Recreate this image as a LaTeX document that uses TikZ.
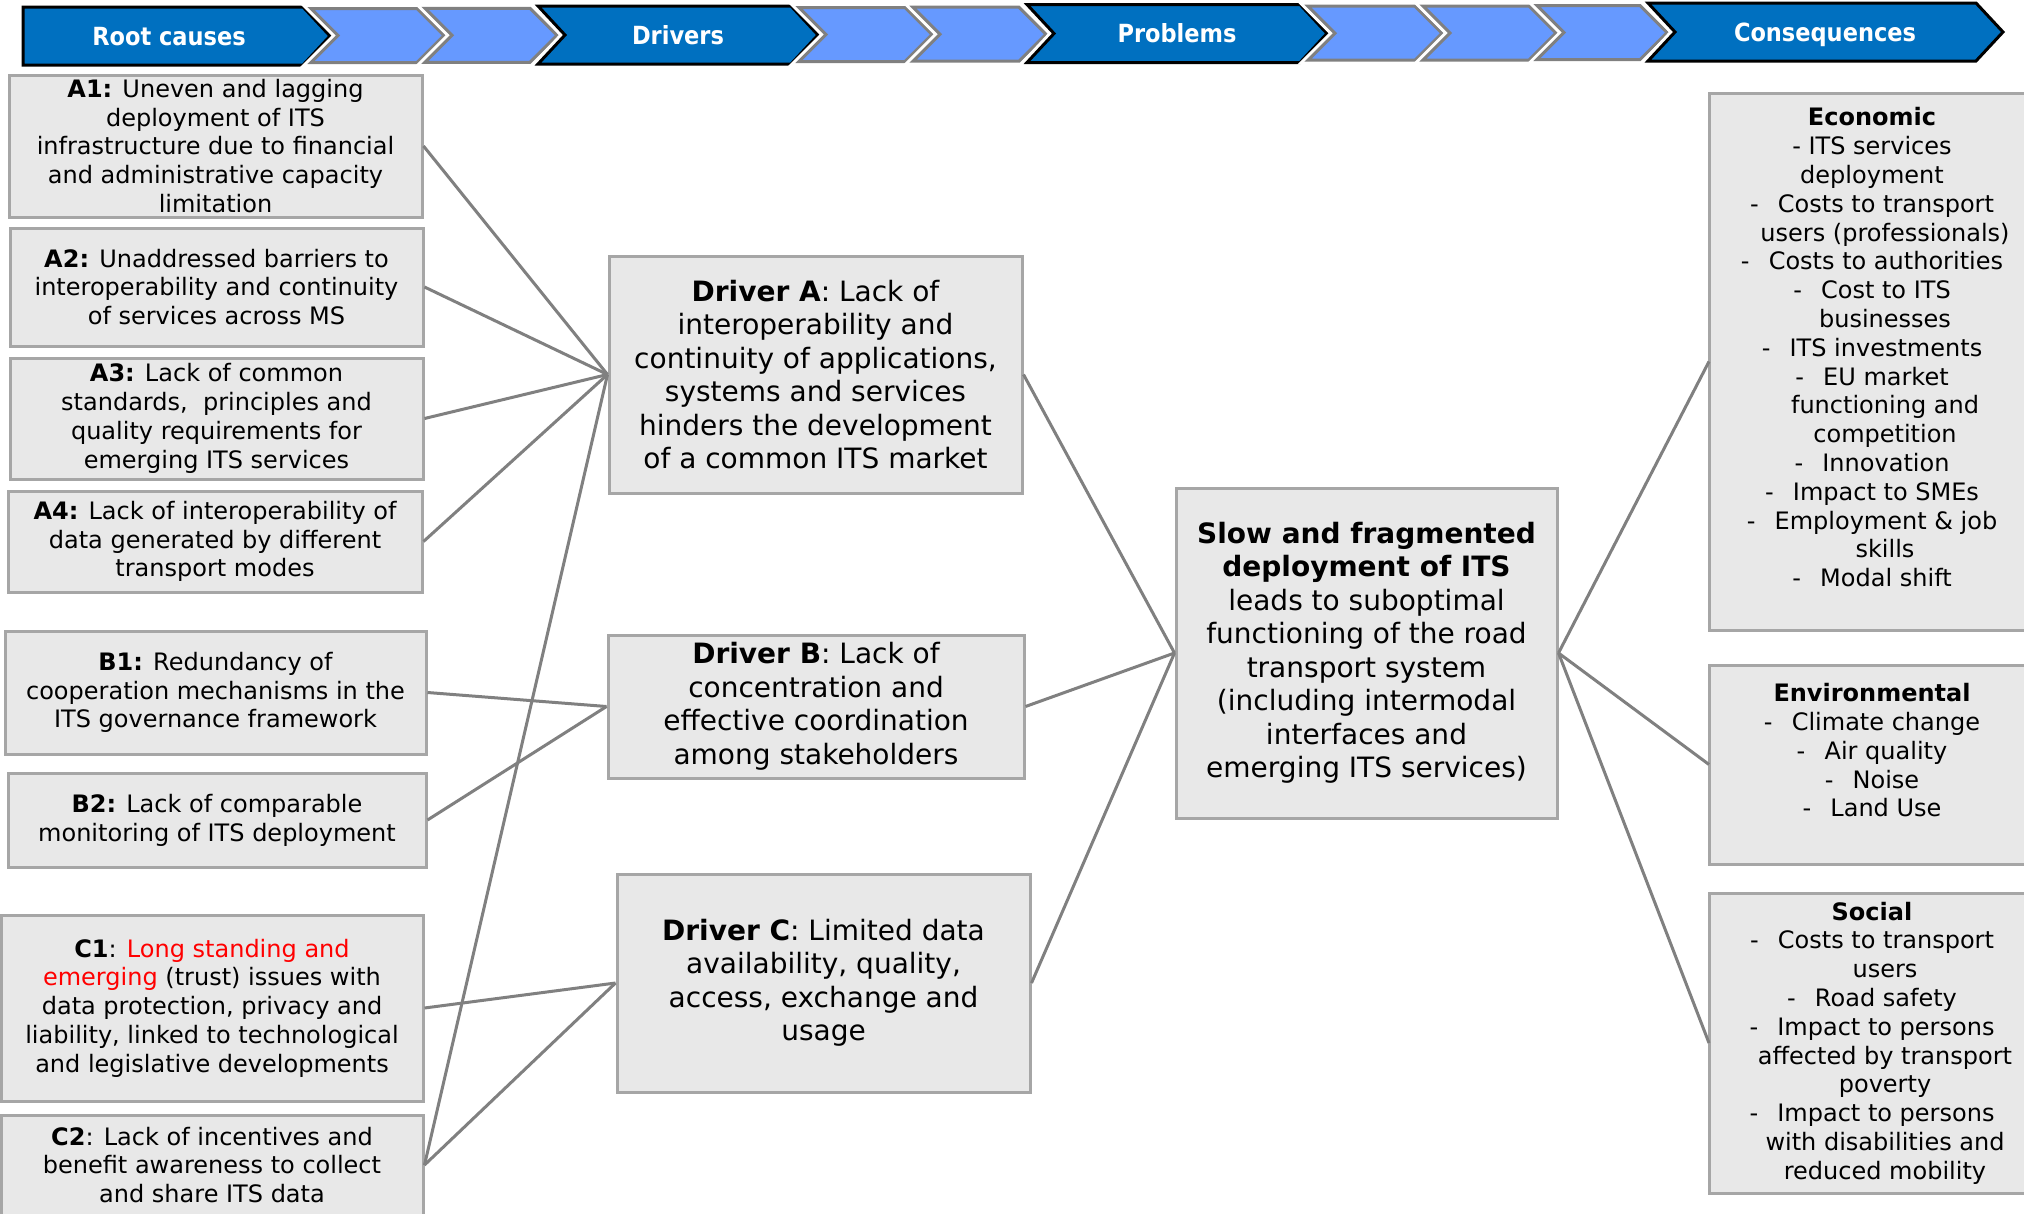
\documentclass[tikz,border=0pt]{standalone}
\usepackage{fontspec}
\setmainfont{DejaVu Sans}
\newfontfamily\hdrfont[FakeStretch=0.9]{DejaVu Sans}
\definecolor{hdrblue}{RGB}{0,112,192}
\definecolor{hdrlight}{RGB}{102,153,255}
\definecolor{boxfill}{RGB}{232,232,232}
\definecolor{boxline}{RGB}{166,166,166}
\definecolor{connline}{RGB}{128,128,128}
\newcommand\chev[6]{%
  \path[#6] (#1,#3-#4) -- (#2-27,#3-#4) -- (#2,#3) -- (#2-27,#3+#4) -- (#1,#3+#4) -- (#1+#5,#3) -- cycle;}
% open box running past the right edge: left x, top y, bottom y
\newcommand\openbox[3]{%
  \fill[boxfill] (#1,#2) rectangle (2040,#3);
  \draw[draw=boxline, line width=3pt] (2040,#2) -- (#1,#2) -- (#1,#3) -- (2040,#3);}
\newcommand\cnt{\hspace*{26pt}}
\newcommand\dsh{-\hspace{0.8em}}
\tikzset{
  box/.style={draw=boxline, fill=boxfill, line width=3pt, inner sep=0pt, align=center,
    font=\fontsize{24pt}{28.8pt}\selectfont},
  drvbox/.style={box, font=\fontsize{28pt}{33.5pt}\selectfont},
  rtext/.style={inner sep=0pt, align=center, font=\fontsize{24pt}{28.8pt}\selectfont},
  anchorbox/.style={inner sep=0pt, outer sep=1.5pt, anchor=west},
  conn/.style={draw=connline, line width=3pt},
  darkchev/.style={fill=hdrblue, draw=black, line width=3pt, preaction={draw=white, line width=9pt}},
  lightchev/.style={fill=hdrlight, draw=connline, line width=3pt, preaction={draw=white, line width=9pt}},
  hdrtext/.style={text=white, anchor=base, inner sep=0pt, font=\hdrfont\bfseries\fontsize{25pt}{30pt}\selectfont},
}
\begin{document}
\begin{tikzpicture}[x=1pt,y=-1pt]
\useasboundingbox (0,0) rectangle (2024,1213);
\clip (0,0) rectangle (2024,1213);
\fill[white] (0,0) rectangle (2024,1213);

% header chevrons
\chev{23}{330}{36}{29}{0}{darkchev}
\chev{311}{444}{35.5}{27}{27}{lightchev}
\chev{425}{557}{35.3}{27}{27}{lightchev}
\chev{538}{818}{35}{29}{27}{darkchev}
\chev{799}{932}{34.5}{27}{27}{lightchev}
\chev{913}{1046}{34.2}{27}{27}{lightchev}
\chev{1027}{1327}{33.5}{29}{27}{darkchev}
\chev{1308}{1442}{33.2}{27}{27}{lightchev}
\chev{1423}{1556}{33}{27}{27}{lightchev}
\chev{1537}{1667}{32.6}{27}{27}{lightchev}
\chev{1648}{2003}{32}{29}{27}{darkchev}
\node[hdrtext] (hroot) at (169,45) {Root causes};
\node[hdrtext] (hdrv) at (678,44) {Drivers};
\node[hdrtext] (hprob) at (1177,42.5) {Problems};
\node[hdrtext] (hcons) at (1825,41) {Consequences};

% root causes
\node[box, minimum width=413pt, minimum height=142pt] (a1) at (215.5,146)
  {\textbf{A1:} Uneven and lagging\\deployment of ITS\\infrastructure due to financial\\and administrative capacity\\limitation};
\node[box, minimum width=413pt, minimum height=118pt] (a2) at (216.5,287)
  {\textbf{A2:} Unaddressed barriers to\\interoperability and continuity\\of services across MS};
\node[box, minimum width=413pt, minimum height=121pt] (a3) at (216.5,418.5)
  {\textbf{A3:} Lack of common\\standards,\ \ principles and\\quality requirements for\\emerging ITS services};
\node[box, minimum width=414pt, minimum height=101pt] (a4) at (215,541.5)
  {\textbf{A4:} Lack of interoperability of\\data generated by different\\transport modes};
\node[box, minimum width=421pt, minimum height=123pt] (b1) at (215.5,692.5)
  {\textbf{B1:} Redundancy of\\cooperation mechanisms in the\\ITS governance framework};
\node[box, minimum width=418pt, minimum height=94pt] (b2) at (217,820)
  {\textbf{B2:} Lack of comparable\\monitoring of ITS deployment};
\node[box, minimum width=422pt, minimum height=186pt] (c1) at (212,1008)
  {\textbf{C1}: \textcolor{red}{Long standing and}\\\textcolor{red}{emerging} (trust) issues with\\data protection, privacy and\\liability, linked to technological\\and legislative developments};
\node[box, minimum width=422pt, minimum height=100pt] (c2) at (212,1165)
  {\textbf{C2}: Lack of incentives and\\benefit awareness to collect\\and share ITS data};

% drivers
\node[drvbox, minimum width=413pt, minimum height=237pt] (da) at (815.5,374.5)
  {\textbf{Driver A}: Lack of\\interoperability and\\continuity of applications,\\systems and services\\hinders the development\\of a common ITS market};
\node[drvbox, minimum width=416pt, minimum height=143pt] (db) at (816,706.5)
  {\textbf{Driver B}: Lack of\\concentration and\\effective coordination\\among stakeholders};
\node[drvbox, minimum width=413pt, minimum height=218pt] (dc) at (823.5,983)
  {\textbf{Driver C}: Limited data\\availability, quality,\\access, exchange and\\usage};

% problem
\node[drvbox, minimum width=381pt, minimum height=330pt] (p) at (1366.5,653)
  {\textbf{Slow and fragmented}\\\textbf{deployment of ITS}\\leads to suboptimal\\functioning of the road\\transport system\\(including intermodal\\interfaces and\\emerging ITS services)};

% consequences (boxes run past the right edge)
\openbox{1709}{93}{630}
\openbox{1709}{665}{864}
\openbox{1709}{893}{1193}
\node[anchorbox, minimum height=537pt] (econ) at (1709,361.5) {};
\node[anchorbox, minimum height=199pt] (env) at (1709,764.5) {};
\node[anchorbox, minimum height=300pt] (soc) at (1709,1043) {};
\node[rtext] (econt) at (1872,361.5)
  {\textbf{Economic}\\- ITS services\\deployment\\\dsh Costs to transport\\\cnt users (professionals)\\\dsh Costs to authorities\\\dsh Cost to ITS\\\cnt businesses\\\dsh ITS investments\\\dsh EU market\\\cnt functioning and\\\cnt competition\\\dsh Innovation\\\dsh Impact to SMEs\\\dsh Employment \& job\\\cnt skills\\\dsh Modal shift\\~};
\node[rtext] (envt) at (1872,764.5)
  {\textbf{Environmental}\\\dsh Climate change\\\dsh Air quality\\\dsh Noise\\\dsh Land Use\\~};
\node[rtext] (soct) at (1872,1043)
  {\textbf{Social}\\\dsh Costs to transport\\\cnt users\\\dsh Road safety\\\dsh Impact to persons\\\cnt affected by transport\\\cnt poverty\\\dsh Impact to persons\\\cnt with disabilities and\\\cnt reduced mobility};

% connectors
\draw[conn] (a1.east) -- (da.west);
\draw[conn] (a2.east) -- (da.west);
\draw[conn] (a3.east) -- (da.west);
\draw[conn] (a4.east) -- (da.west);
\draw[conn] (c2.east) -- (da.west);
\draw[conn] (b1.east) -- (db.west);
\draw[conn] (b2.east) -- (db.west);
\draw[conn] (c1.east) -- (dc.west);
\draw[conn] (c2.east) -- (dc.west);
\draw[conn] (da.east) -- (p.west);
\draw[conn] (db.east) -- (p.west);
\draw[conn] (dc.east) -- (p.west);
\draw[conn] (p.east) -- (econ.west);
\draw[conn] (p.east) -- (env.west);
\draw[conn] (p.east) -- (soc.west);
\end{tikzpicture}
\end{document}
